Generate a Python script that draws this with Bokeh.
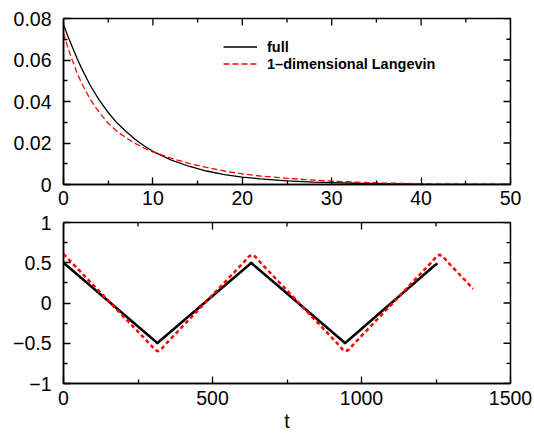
import math
from bokeh.plotting import figure
from bokeh.layouts import column
from bokeh.models import (Legend, LegendItem, CustomJSTickFormatter,
                          Range1d, FixedTicker)
from bokeh.embed import file_html
from bokeh.resources import INLINE

# ---- top panel data ----
t_top = [0, 0.5, 1, 1.5, 2, 3, 4, 5, 6, 7, 8, 9, 10, 12, 14, 16, 18, 20, 22, 25,
         28, 30, 33, 36, 40, 45, 50]
full_top = [0.0770, 0.0713, 0.0662, 0.0610, 0.0562, 0.0477, 0.0407, 0.0347, 0.0296,
            0.0255, 0.0218, 0.0187, 0.0160, 0.0119, 0.0088, 0.0065, 0.0048, 0.0036,
            0.0027, 0.0017, 0.0011, 0.0009, 0.0006, 0.0004, 0.0002, 0.0001, 0.00005]
lang_top = [0.0730, 0.0658, 0.0597, 0.0540, 0.0490, 0.0410, 0.0347, 0.0295, 0.0255,
            0.0225, 0.0198, 0.0176, 0.0157, 0.0127, 0.0102, 0.0082, 0.0065, 0.0051,
            0.0041, 0.0030, 0.0021, 0.0016, 0.0011, 0.0007, 0.0004, 0.0002, 0.0001]

# ---- bottom panel data ----
t_full = [0, 305, 315, 325, 620, 630, 640, 935, 945, 955, 1245, 1255]
full_bot = [0.50, -0.465, -0.50, -0.465, 0.465, 0.50, 0.465, -0.465, -0.50, -0.465,
            0.465, 0.49]
t_lang = [0, 290, 305, 316, 328, 343, 606, 621, 632, 644, 659, 921, 936, 947, 959, 974,
          1236, 1251, 1262, 1274, 1289, 1375]
lang_bot = [0.608, -0.51, -0.575, -0.60, -0.575, -0.51, 0.51, 0.575, 0.60, 0.575, 0.51,
            -0.51, -0.575, -0.60, -0.575, -0.51, 0.51, 0.575, 0.60, 0.575, 0.51, 0.175]

top_xrange = (0, 50)
top_yrange = (0, 0.08)
bot_xrange = (0, 1500)
bot_yrange = (-1, 1)
top_xticks = [0, 10, 20, 30, 40, 50]
top_xminor = [5, 15, 25, 35, 45]
top_yticks = [0, 0.02, 0.04, 0.06, 0.08]
top_yminor = [0.01, 0.03, 0.05, 0.07]
bot_xticks = [0, 500, 1000, 1500]
bot_xminor = [250, 750, 1250]
bot_yticks = [-1, -0.5, 0, 0.5, 1]
bot_yminor = [-0.75, -0.25, 0.25, 0.75]

FONT = "Liberation Sans"
TICK_FS = "19.5px"
MAJ = 7
MIN = 4


def fmt():
    return CustomJSTickFormatter(
        code="return Number(tick.toFixed(3)).toString().replace('-', '\u2212');")


def style_axis(ax, ticks, minor, standoff):
    ax.ticker = FixedTicker(ticks=ticks, minor_ticks=minor)
    ax.formatter = fmt()
    ax.major_tick_in = MAJ
    ax.major_tick_out = 0
    ax.minor_tick_in = MIN
    ax.minor_tick_out = 0
    ax.major_tick_line_width = 1.3
    ax.minor_tick_line_width = 1.3
    ax.axis_line_width = 1.5
    ax.axis_line_color = "black"
    ax.major_tick_line_color = "black"
    ax.minor_tick_line_color = "black"
    ax.major_label_text_font = FONT
    ax.major_label_text_color = "black"
    ax.major_label_text_font_size = TICK_FS
    ax.major_label_standoff = standoff


def mirror_ticks(p, xr, yr, xt, xm, yt, ym):
    # ticks on top edge (pointing down) and right edge (pointing left)
    for ticks, ln in ((xt, MAJ), (xm, MIN)):
        p.ray(x=ticks, y=[yr[1]] * len(ticks), length=ln, length_units="screen",
              angle=-math.pi / 2, line_color="black", line_width=1.3)
    for ticks, ln in ((yt, MAJ), (ym, MIN)):
        p.ray(x=[xr[1]] * len(ticks), y=ticks, length=ln, length_units="screen",
              angle=math.pi, line_color="black", line_width=1.3)


def make_fig(xr, yr, fh, top_border, xt, xm, yt, ym, xstand):
    p = figure(frame_width=447, frame_height=fh, x_range=Range1d(*xr),
               y_range=Range1d(*yr), output_backend="svg", toolbar_location=None,
               min_border_left=63, min_border_right=23, min_border_top=top_border,
               min_border_bottom=0)
    p.grid.visible = False
    p.outline_line_color = "black"
    p.outline_line_width = 1.5
    p.background_fill_color = "white"
    p.border_fill_color = "white"
    style_axis(p.xaxis[0], xt, xm, xstand)
    style_axis(p.yaxis[0], yt, ym, 12)
    mirror_ticks(p, xr, yr, xt, xm, yt, ym)
    return p


p1 = make_fig(top_xrange, top_yrange, 166, 18,
              top_xticks, top_xminor, top_yticks, top_yminor, 6)
r1 = p1.line(t_top, full_top, line_color="black", line_width=1.3)
r2 = p1.line(t_top, lang_top, line_color="red", line_width=1.3, line_dash="6 3")

legend = Legend(items=[LegendItem(label="full", renderers=[r1]),
                       LegendItem(label="1\u2013dimensional Langevin", renderers=[r2])],
                location=(160, 112), border_line_color=None, background_fill_alpha=0,
                label_text_font=FONT, label_text_font_size="14.5px",
                label_text_font_style="bold", label_text_color="black",
                glyph_width=34, glyph_height=17,
                label_height=17, spacing=0, padding=0, margin=0, label_standoff=10)
p1.add_layout(legend)

p2 = make_fig(bot_xrange, bot_yrange, 161, 15,
              bot_xticks, bot_xminor, bot_yticks, bot_yminor, 7)
p2.line(t_full, full_bot, line_color="black", line_width=2.5)
p2.line(t_lang, lang_bot, line_color="red", line_width=2.5, line_dash="4 3")
xa = p2.below[0]
xa.axis_label = "t"
xa.axis_label_text_font = FONT
xa.axis_label_text_font_size = TICK_FS
xa.axis_label_text_font_style = "normal"
xa.axis_label_text_color = "black"
xa.axis_label_standoff = 2

layout = column(p1, p2, spacing=0)
open("out.html", "w").write(file_html(layout, INLINE))
